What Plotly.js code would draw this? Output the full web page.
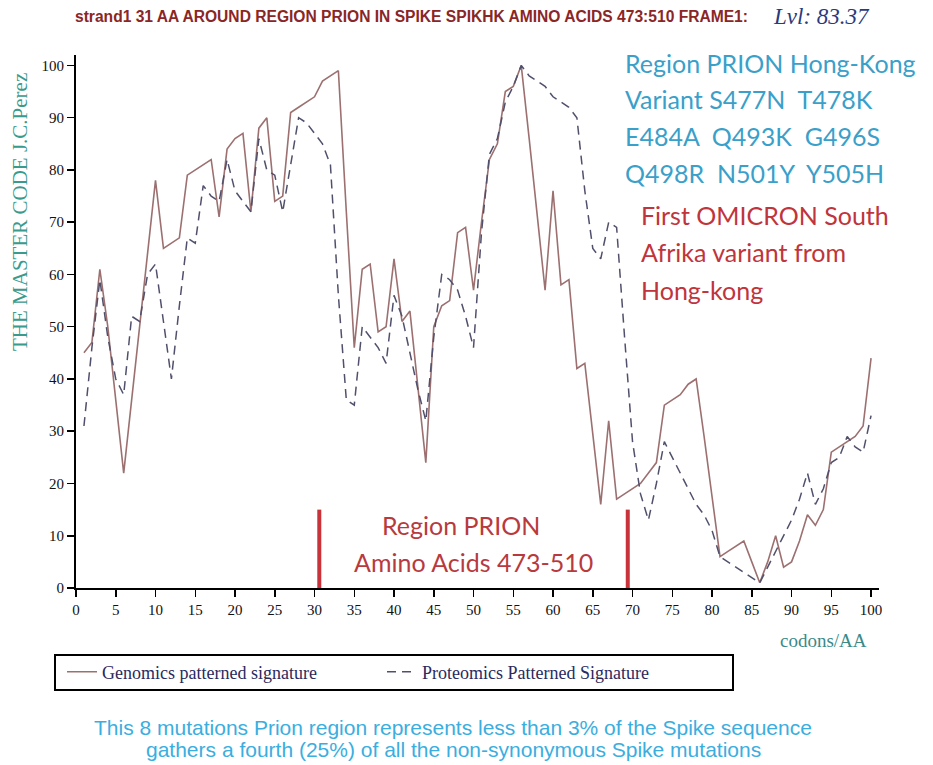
<!DOCTYPE html>
<html>
<head>
<meta charset="utf-8">
<script src="https://cdn.plot.ly/plotly-3.0.1.min.js"></script>
<style>html,body{margin:0;padding:0;background:#fff;}#chart{width:933px;height:765px;}</style>
</head>
<body>
<div id="chart"></div>
<script>
// ---- data ----
const codons = [1,2,3,4,5,6,7,8,9,10,11,12,13,14,15,16,17,18,19,20,21,22,23,24,25,26,27,28,29,30,31,32,33,34,35,36,37,38,39,40,41,42,43,44,45,46,47,48,49,50,51,52,53,54,55,56,57,58,59,60,61,62,63,64,65,66,67,68,69,70,71,72,73,74,75,76,77,78,79,80,81,82,83,84,85,86,87,88,89,90,91,92,93,94,95,96,97,98,99,100];
const genomics = [45,47,61,50,36,22,36,50,64,78,65,66,67,79,80,81,82,71,84,86,87,72,88,90,74,75,91,92,93,94,97,98,99,72,46,61,62,49,50,63,51,53,38,24,50,54,55,68,69,57,70,82,85,95,96,100,86,71,57,76,58,59,42,43,29,16,32,17,18,19,20,22,24,35,36,37,39,40,29,17,6,7,8,9,5,1,5,10,4,5,9,14,12,15,26,27,28,29,31,44];
const proteomics = [31,46,59,48,40,37,52,51,60,62,51,40,54,67,66,77,75,74,82,76,74,72,86,80,79,72,81,90,89,87,85,81,56,36,35,50,48,46,43,56,52,45,38,32,48,60,59,57,52,46,68,83,86,93,96,100,98,97,96,94,93,92,90,76,65,63,70,69,48,28,18,13,20,28,25,22,19,16,14,11,6,5,4,3,2,1,4,7,10,13,17,22,16,19,24,25,29,27,26,33];
const seriesNames = ["Genomics patterned signature", "Proteomics Patterned Signature"];
const regionBounds = [30.6, 69.4];
const regionMarkTop = 15;
const xTicks = [0,5,10,15,20,25,30,35,40,45,50,55,60,65,70,75,80,85,90,95,100];
const yTicks = [0,10,20,30,40,50,60,70,80,90,100];
const titleText = "strand1 31 AA AROUND REGION PRION IN SPIKE SPIKHK AMINO ACIDS 473:510 FRAME1:";
const levelText = "Lvl: 83.37";
const variantLines = ["Region PRION Hong-Kong", "Variant S477N  T478K", "E484A  Q493K  G496S", "Q498R  N501Y  Y505H"];
const omicronLines = ["First OMICRON South", "Afrika variant from", "Hong-kong"];
const regionLines = ["Region PRION", "Amino Acids 473-510"];
const footerLines = ["This 8 mutations Prion region represents less than 3% of the Spike sequence", "gathers a fourth (25%) of all the non-synonymous Spike mutations"];

// ---- layout helpers (pixel -> paper) ----
const L = 76, R = 54, T = 55, B = 177, W = 933, H = 765;
const PW = W - L - R, PH = H - T - B;
const P = x => (x - L) / PW;
const Q = y => (H - B - y) / PH;

const serif = "Liberation Serif, Times New Roman, serif";
const sans = "Liberation Sans, Arial, sans-serif";
const calib = "Lato, Open Sans, sans-serif";

const traces = [
  {x: codons, y: genomics, type: 'scatter', mode: 'lines', name: seriesNames[0],
   line: {color: '#9c7070', width: 1.6}},
  {x: codons, y: proteomics, type: 'scatter', mode: 'lines', name: seriesNames[1],
   line: {color: '#50506c', width: 1.5, dash: '9px,6px'}}
];

const ann = [];
function txt(t, x, y, opts) {
  ann.push(Object.assign({text: t, x: x, y: y, xref: 'paper', yref: 'paper', showarrow: false,
    xanchor: 'left', yanchor: 'middle'}, opts));
}
const blueFont = {family: calib, size: 25, color: '#3a9fc9'};
const redFont = {family: calib, size: 25, color: '#c0343c'};
variantLines.forEach((t, i) => txt(t, P(623), Q([63, 99, 136, 173][i]), {font: blueFont}));
omicronLines.forEach((t, i) => txt(t, P(639), Q([215, 252, 290][i]), {font: redFont}));
txt(regionLines[0], P(461), Q(525), {xanchor: 'center', font: {family: calib, size: 25, color: '#b83a3e'}});
txt(regionLines[1], P(473), Q(562), {xanchor: 'center', font: {family: calib, size: 25, color: '#b83a3e'}});
txt(levelText, P(872), Q(17), {xanchor: 'right', font: {family: serif, size: 23, color: '#2b3a7c', style: 'italic'}});
txt("THE MASTER CODE J.C.Perez", P(20), Q(212), {xanchor: 'center', textangle: -90, font: {family: serif, size: 21, color: '#3a9a8c'}});
txt("codons/AA", P(869), Q(640), {xanchor: 'right', font: {family: serif, size: 19, color: '#3a8a8a'}});
footerLines.forEach((t, i) => txt(t, P(453), Q([727, 749][i]), {xanchor: 'center', font: {family: sans, size: 21, color: '#3aaee0'}}));

const shapes = regionBounds.map(b => ({type: 'line', xref: 'x', yref: 'y', x0: b, x1: b, y0: 0, y1: regionMarkTop,
  line: {color: '#c8323a', width: 4}}));
shapes.push({type: 'rect', xref: 'paper', yref: 'paper', x0: P(55), x1: P(733), y0: Q(690), y1: Q(655),
  line: {color: '#000', width: 2}, fillcolor: 'rgba(0,0,0,0)'});

const layout = {
  width: W, height: H,
  margin: {l: L, r: R, t: T, b: B},
  paper_bgcolor: '#fff', plot_bgcolor: '#fff',
  title: {text: titleText, x: 75 / W, xanchor: 'left', xref: 'container', y: 1 - 17 / H, yref: 'container', yanchor: 'middle',
    font: {family: "Liberation Sans Narrow, Arial Narrow, Liberation Sans, sans-serif", size: 15.6, color: '#8a2626', weight: 'bold'}},
  xaxis: {range: [0, 101], tickvals: xTicks, showgrid: false, zeroline: false, showline: true, linecolor: '#000', linewidth: 2,
    ticks: 'outside', ticklen: 7, tickwidth: 1.5, tickcolor: '#000', tickfont: {family: serif, size: 15, color: '#111'}},
  yaxis: {range: [0, 102], tickvals: yTicks, showgrid: false, zeroline: false, showline: true, linecolor: '#000', linewidth: 2,
    ticks: 'outside', ticklen: 7, tickwidth: 1.5, tickcolor: '#000', tickfont: {family: serif, size: 15, color: '#111'}},
  showlegend: true,
  legend: {orientation: 'h', x: P(62), y: Q(672), xanchor: 'left', yanchor: 'middle', xref: 'paper', yref: 'paper',
    entrywidth: 275, entrywidthmode: 'pixels', itemwidth: 30, bgcolor: 'rgba(0,0,0,0)',
    font: {family: serif, size: 18, color: '#2a2a5e'}},
  annotations: ann,
  shapes: shapes
};

Plotly.newPlot('chart', traces, layout, {displayModeBar: false, staticPlot: true});
</script>
</body>
</html>
